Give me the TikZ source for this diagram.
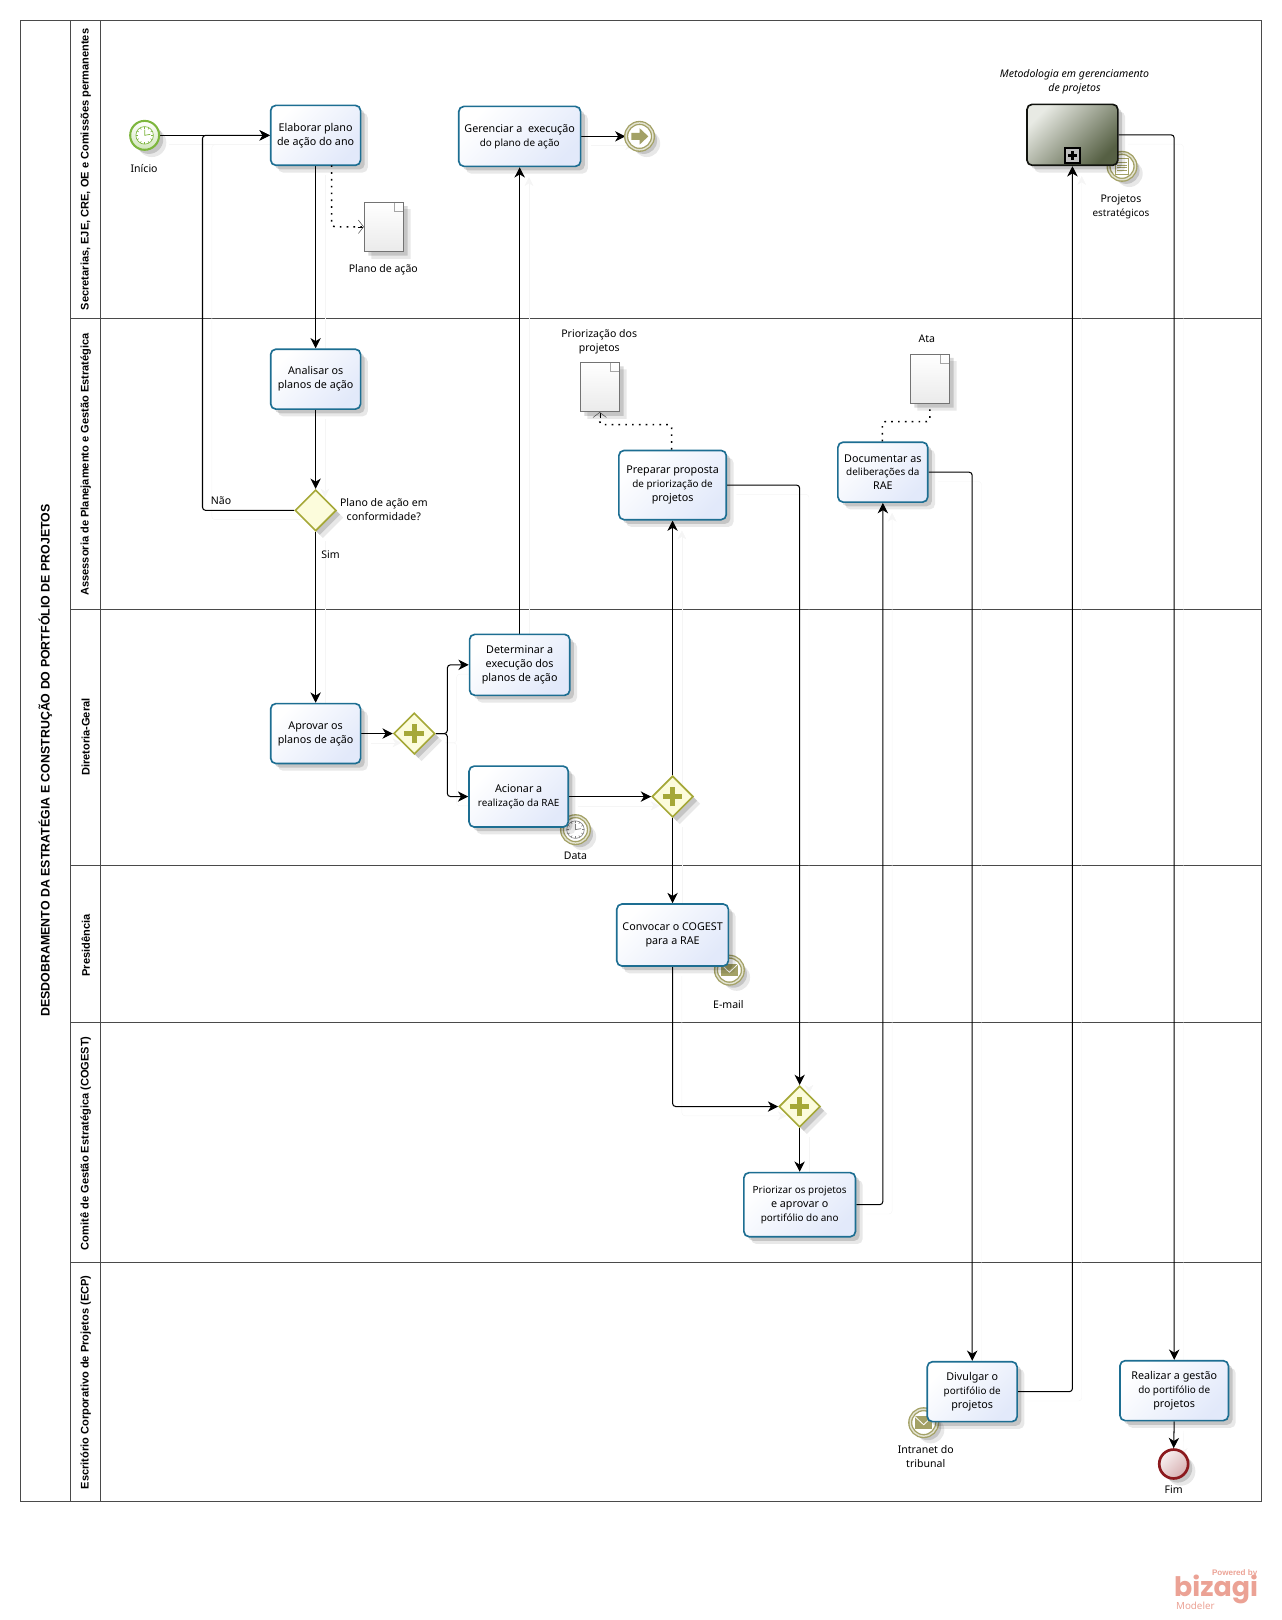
\documentclass[tikz,border=0pt]{standalone}
\usepackage{fontspec}
\setmainfont{Noto Sans}
\newfontfamily\logofont{Poppins}
\newfontfamily\lanefont{Liberation Sans}
\usetikzlibrary{shapes.geometric, shapes.misc, arrows, arrows.meta, shadows, backgrounds}
\definecolor{laneline}{HTML}{4A4A4A}
\definecolor{taskline}{HTML}{1D6E92}
\definecolor{taskfill}{HTML}{E2E9FA}
\definecolor{gateline}{HTML}{A5A838}
\definecolor{gatefill}{HTML}{FCFCDC}
\definecolor{evline}{HTML}{A3A166}
\definecolor{startline}{HTML}{7DB63E}
\definecolor{endline}{HTML}{8C1A1E}
\definecolor{subdark}{HTML}{566044}
\definecolor{sublight}{HTML}{E8EAE4}
\definecolor{logocol}{HTML}{EBA295}
\tikzstyle{softshadow}=[drop shadow={shadow xshift=7pt,shadow yshift=-7pt,opacity=.09,fill=black},drop shadow={shadow xshift=4pt,shadow yshift=-4pt,opacity=.15,fill=black}]
\tikzstyle{lanelabel}=[rotate=90,inner sep=0,font=\lanefont\fontsize{10.7}{12}\selectfont\bfseries]
\tikzstyle{task}=[rectangle,rounded corners=5pt,draw=taskline,line width=1.6pt,top color=white,bottom color=taskfill,shading angle=45,inner sep=0,align=center,softshadow,font=\fontsize{10.4}{13.5}\selectfont]
\tikzstyle{subtask}=[rectangle,rounded corners=5pt,draw=black!80!subdark,line width=1.6pt,top color=sublight,bottom color=subdark,shading angle=45,inner sep=0,softshadow]
\tikzstyle{gate}=[diamond,aspect=1,minimum width=40,minimum height=40,inner sep=0,draw=gateline,line width=1.6pt,fill=gatefill,softshadow]
\tikzstyle{andgate}=[gate,path picture={
	\draw[gateline,line width=4.5pt] ([xshift=-9.5pt]path picture bounding box.center)--([xshift=9.5pt]path picture bounding box.center);
	\draw[gateline,line width=4.5pt] ([yshift=-9.5pt]path picture bounding box.center)--([yshift=9.5pt]path picture bounding box.center);}]
\tikzstyle{submarker}=[rectangle,minimum size=15,inner sep=0,draw=black,line width=1.6pt,fill=black!25,path picture={
	\draw[black,line width=2.4pt] ([xshift=-4.5pt]path picture bounding box.center)--([xshift=4.5pt]path picture bounding box.center);
	\draw[black,line width=2.4pt] ([yshift=-4.5pt]path picture bounding box.center)--([yshift=4.5pt]path picture bounding box.center);}]
\tikzstyle{startev}=[circle,minimum size=28,inner sep=0,draw=startline,line width=2pt,top color=white,bottom color=startline!35,softshadow]
\tikzstyle{midev}=[circle,minimum size=26,inner sep=0,draw=evline,line width=1.3pt,double=white!70!evline,double distance=1.4pt,fill=white,softshadow]
\tikzstyle{endev}=[circle,minimum size=28,inner sep=0,draw=endline,line width=2.6pt,top color=endline!6,bottom color=endline!35,shading angle=45,softshadow]
\tikzstyle{docshape}=[chamfered rectangle,chamfered rectangle corners=north east,chamfered rectangle xsep=9pt,chamfered rectangle ysep=9pt,minimum width=38,minimum height=48,inner sep=0,draw=black!55,line width=.6pt,top color=white,bottom color=black!8,softshadow,path picture={
	\draw[black!35,line width=.5pt] ([xshift=-9pt]path picture bounding box.north east) |- ([yshift=-9pt]path picture bounding box.north east);}]
\tikzstyle{txt}=[inner sep=0,yshift=-1pt,align=center,font=\fontsize{10.2}{13.5}\selectfont]
\tikzstyle{flow}=[line width=1pt,rounded corners=3pt,->,>={Stealth[length=10pt,width=10pt,inset=3pt]},preaction={draw=black!4,transform canvas={xshift=9pt,yshift=-9pt}}]
\tikzstyle{assoc}=[line width=1.5pt,rounded corners=3pt,dash pattern=on 1.6pt off 5pt]
\tikzstyle{barb}=[-{Straight Barb[length=5pt,width=13pt,black!70,line width=.5pt]}]
% squeezed lines, the reference sets these tighter
\newcommand{\tightline}[1]{{\fontsize{9.6}{13.5}\selectfont #1}}
% icons go on top of the event nodes
\newcommand{\clockicon}[2]{
	\draw[#2,line width=.6pt,fill=white] (#1) circle (8.5pt);
	\foreach \a in {0,30,...,330}{
		\draw[#2,line width=.5pt] ([shift={(\a:8.5pt)}]#1.center)--([shift={(\a:6.5pt)}]#1.center);}
	\draw[#2,line width=.7pt] ([yshift=5.5pt]#1.center)--(#1.center)--([xshift=5.5pt,yshift=1pt]#1.center);}
\newcommand{\mailicon}[1]{
	\fill[evline] ([shift={(-8.5pt,-6pt)}]#1.center) rectangle ([shift={(8.5pt,6pt)}]#1.center);
	\draw[white,line width=.8pt] ([shift={(-8.5pt,6pt)}]#1.center)--([yshift=-2pt]#1.center)--([shift={(8.5pt,6pt)}]#1.center);}
\newcommand{\pageicon}[1]{
	\draw[evline,line width=.7pt,fill=white] ([shift={(-6.5pt,-8pt)}]#1.center) rectangle ([shift={(6.5pt,8pt)}]#1.center);
	\foreach \h in {-4,-1.3,1.3,4}{
		\draw[evline,line width=.7pt] ([shift={(-4.5pt,\h pt)}]#1.center)--([shift={(4.5pt,\h pt)}]#1.center);}}
\newcommand{\linkicon}[1]{
	\fill[evline] ([shift={(-8pt,-3.5pt)}]#1.center)--([shift={(0pt,-3.5pt)}]#1.center)--([shift={(0pt,-8pt)}]#1.center)--([shift={(8.5pt,0pt)}]#1.center)--([shift={(0pt,8pt)}]#1.center)--([shift={(0pt,3.5pt)}]#1.center)--([shift={(-8pt,3.5pt)}]#1.center)--cycle;}

\begin{document}
\begin{tikzpicture}[x=1pt,y=-1pt]
\useasboundingbox (0,0) rectangle (1240,1568);
\begin{scope}[on background layer]
\draw[laneline,line width=1pt] (20,20) rectangle (1221,1453);
\draw[laneline,line width=1pt] (68,20)--(68,1453);
\draw[laneline,line width=1pt] (97,20)--(97,1453);
\foreach \y in {308,590,838,990,1222}{
	\draw[laneline,line width=.8pt] (68,\y)--(1221,\y);}
\end{scope}

\draw (44,736)node[lanelabel,font=\lanefont\fontsize{12}{13}\selectfont\bfseries](title){DESDOBRAMENTO DA ESTRATÉGIA E CONSTRUÇÃO DO PORTFÓLIO DE PROJETOS};
\draw (83,164)node[lanelabel](laneA){Secretarias, EJE, CRE, OE e Comissões permanentes};
\draw (83,449.5)node[lanelabel](laneB){Assessoria de Planejamento e Gestão Estratégica};
\draw (83,713.5)node[lanelabel](laneC){Diretoria-Geral};
\draw (83,915)node[lanelabel](laneD){Presidência};
\draw (83,1106.5)node[lanelabel](laneE){Comitê de Gestão Estratégica (COGEST)};
\draw (83,1338)node[lanelabel](laneF){Escritório Corporativo de Projetos (ECP)};

% events that sit behind their tasks
\draw (1086,161)node[midev](evproj){};
\draw (557,803)node[midev](evdata){};
\draw (706,939)node[midev](evmail){};
\draw (894,1377)node[midev](evnet){};
\clockicon{evdata}{black!50}
\mailicon{evmail}
\mailicon{evnet}
\pageicon{evproj}

\draw (140,131)node[startev](start){};
\clockicon{start}{startline}
\draw (619,132)node[midev](evlink){};
\linkicon{evlink}
\draw (1136,1417)node[endev](fim){};

\draw (305.5,131)node[task,minimum width=87,minimum height=58](elab){Elaborar plano\\de ação do ano};
\draw (503,132)node[task,minimum width=118,minimum height=58](geren){Gerenciar a \ execução\\\tightline{do plano de ação}};
\draw (305.5,367)node[task,minimum width=87,minimum height=58](anal){Analisar os\\planos de ação};
\draw (305.5,710)node[task,minimum width=87,minimum height=58](apro){Aprovar os\\planos de ação};
\draw (503,643.5)node[task,minimum width=97,minimum height=59](dete){Determinar a\\execução dos\\planos de ação};
\draw (502,771)node[task,minimum width=96,minimum height=59](acio){Acionar a\\\tightline{realização da RAE}};
\draw (651,905)node[task,minimum width=108,minimum height=60](conv){Convocar o COGEST\\para a RAE};
\draw (651,469.5)node[task,minimum width=104,minimum height=67](prep){Preparar proposta\\\tightline{de priorização de}\\projetos};
\draw (854.5,457)node[task,minimum width=87,minimum height=58](docu){Documentar as\\\tightline{deliberações da}\\RAE};
\draw (774,1166)node[task,minimum width=108,minimum height=62](prio){\tightline{Priorizar os projetos}\\e aprovar o\\\tightline{portifólio do ano}};
\draw (941,1347)node[task,minimum width=87,minimum height=58](divu){Divulgar o\\\tightline{portifólio de}\\projetos};
\draw (1136.5,1346)node[task,minimum width=105,minimum height=58](real){Realizar a gestão\\\tightline{do portifólio de}\\projetos};

\draw (1038,130.5)node[subtask,minimum width=88,minimum height=59](sub){};
\draw (1038,150.5)node[submarker](submark){};

\draw (305.5,494)node[gate](dec){};
\draw (401,710)node[andgate](gwA){};
\draw (651,771)node[andgate](gwB){};
\draw (774,1071)node[andgate](gwC){};

\draw (371.5,219.5)node[docshape](dplano){};
\draw (580.5,374.5)node[docshape](dprio){};
\draw (900,366.5)node[docshape](data){};

\draw (139.5,162)node[txt](tinicio){Início};
\draw (371,260)node[txt](tplano){Plano de ação};
\draw (580,330)node[txt](tprio){Priorização dos\\projetos};
\draw (897,327)node[txt](tata){Ata};
\draw (1040,78)node[txt,font=\fontsize{10.2}{13.5}\selectfont\itshape](tmeto){Metodologia em gerenciamento\\de projetos};
\draw (1085,199.5)node[txt](tproj){Projetos\\\tightline{estratégicos}};
\draw (214,484)node[txt](tnao){Não};
\draw (371.5,492)node[txt](tconf){Plano de ação em\\conformidade?};
\draw (320,536)node[txt](tsim){Sim};
\draw (557,827.5)node[txt](tdata){Data};
\draw (705,971)node[txt](tmail){E-mail};
\draw (896,1409)node[txt](tnet){Intranet do\\tribunal};
\draw (1136,1441)node[txt](tfim){Fim};

\coordinate (turn) at (196,131);
\coordinate (split) at (433,710);
\begin{scope}[on background layer]
\draw[flow] (start.east)--(elab.west);
\draw[flow] (dec.west)-|(turn)--(elab.west);
\draw[flow] (elab.south)--(anal.north);
\draw[flow] (anal.south)--(dec.north);
\draw[flow] (dec.south)--(apro.north);
\draw[flow] (apro.east)--(gwA.west);
\draw[flow] (gwA.east)--(split)|-(dete.west);
\draw[flow] (gwA.east)--(split)|-(acio.west);
\draw[flow] (dete.north)--(geren.south);
\draw[flow] (geren.east)--(evlink.west);
\draw[flow] (acio.east)--(gwB.west);
\draw[flow] (gwB.north)--(prep.south);
\draw[flow] (gwB.south)--(conv.north);
\draw[flow] (conv.south)|-(gwC.west);
\draw[flow] (prep.east)-|(gwC.north);
\draw[flow] (gwC.south)--(prio.north);
\draw[flow] (prio.east)-|(docu.south);
\draw[flow] (docu.east)-|(divu.north);
\draw[flow] (divu.east)-|(sub.south);
\draw[flow] (sub.east)-|(real.north);
\draw[flow] (real.south)--(fim.north);
\end{scope}

\coordinate (elabdot) at (321,160);
\coordinate (prepknee) at (650,411);
\coordinate (docuknee) at (854,408);
\draw[assoc] (elabdot)|-(dplano.west);
\draw[barb,line width=.5pt] ([xshift=-6pt]dplano.west)--(dplano.west);
\draw[assoc] (prep.north -| prepknee)--(prepknee)-|([yshift=-4pt]dprio.south);
\draw[barb,line width=.5pt] ([yshift=-6pt]dprio.south)--(dprio.south);
\draw[assoc] (docu.north -| docuknee)--(docuknee)-|([yshift=-4pt]data.south);

\draw (1195,1522)node[txt,text=logocol,font=\lanefont\fontsize{7.8}{9}\selectfont\bfseries](lpow){Powered by};
\draw (1177,1537)node[txt,text=logocol,font=\logofont\fontsize{26}{26}\selectfont\bfseries](lbiz){bizagi};
\draw (1157,1553)node[txt,text=logocol,font=\fontsize{9.5}{10}\selectfont](lmod){Modeler};
\end{tikzpicture}
\end{document}
